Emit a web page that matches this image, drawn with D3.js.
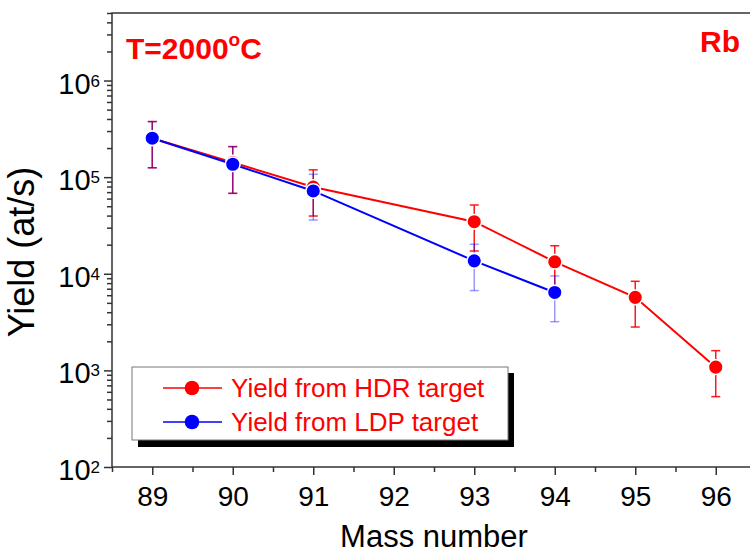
<!DOCTYPE html>
<html>
<head>
<meta charset="utf-8">
<script src="https://cdn.jsdelivr.net/npm/d3@7"></script>
<style>
  body { margin: 0; background: #fff; }
  text { font-family: Arial, "Liberation Sans", sans-serif; }
</style>
</head>
<body>
<svg id="chart"></svg>
<script>
// mass numbers
var massHDR = [89, 90, 91, 93, 94, 95, 96];
var yieldHDR = [2.53e5, 1.42e5, 7.9e4, 3.46e4, 1.33e4, 5.7e3, 1.08e3];
var errLowHDR = [1.25e5, 6.8e4, 3.96e4, 1.72e4, 6.6e3, 2.81e3, 535];
var errHighHDR = [3.76e5, 2.07e5, 1.19e5, 5.15e4, 1.95e4, 8.36e3, 1.6e3];

var massLDP = [89, 90, 91, 93, 94];
var yieldLDP = [2.53e5, 1.36e5, 7.2e4, 1.36e4, 6.4e3];
var errLowLDP = [1.25e5, 6.8e4, 3.6e4, 6.7e3, 3.19e3];
var errHighLDP = [3.76e5, 2.07e5, 1.07e5, 2.02e4, 9.5e3];

var xTicks = [89, 90, 91, 92, 93, 94, 95, 96];
var yTicks = [1e2, 1e3, 1e4, 1e5, 1e6];
var seriesNames = ["Yield from HDR target", "Yield from LDP target"];

var width = 750, height = 553;
var plotLeft = 112, plotRight = 756, plotTop = 13, plotBottom = 467;

var svg = d3.select('#chart')
    .attr('width', width)
    .attr('height', height);

var x = d3.scaleLinear().domain([88.5, 96.5]).range([plotLeft, plotRight]);
var y = d3.scaleLog().domain([100, 5e6]).range([plotBottom, plotTop]);

// frame
svg.append('rect')
    .attr('x', plotLeft).attr('y', plotTop)
    .attr('width', plotRight - plotLeft).attr('height', plotBottom - plotTop)
    .attr('fill', 'none').attr('stroke', '#333').attr('stroke-width', 1.5);

// minor ticks
var xMinor = [];
for (var m = 88.5; m <= 96.5; m += 1) xMinor.push(m);
var yMinor = [];
yTicks.slice(0, 4).forEach(function(d) {
    for (var k = 2; k <= 9; k++) yMinor.push(d * k);
});
[2e6, 3e6, 4e6, 5e6].forEach(function(d) { yMinor.push(d); });

svg.append('g')
    .attr('transform', 'translate(0,' + plotBottom + ')')
    .call(d3.axisBottom(x).tickValues(xMinor).tickSize(5).tickSizeOuter(0).tickFormat(''))
    .call(function(g) { g.select('.domain').remove(); });

svg.append('g')
    .attr('transform', 'translate(' + plotLeft + ',0)')
    .call(d3.axisLeft(y).tickValues(yMinor).tickSize(5).tickSizeOuter(0).tickFormat(''))
    .call(function(g) { g.select('.domain').remove(); });

// major x axis
var xAxis = svg.append('g')
    .attr('transform', 'translate(0,' + plotBottom + ')')
    .call(d3.axisBottom(x).tickValues(xTicks).tickSize(8).tickSizeOuter(0).tickFormat(d3.format('d')));
xAxis.select('.domain').remove();
xAxis.selectAll('text')
    .attr('y', 39).attr('dy', 0)
    .attr('font-size', 28).attr('fill', '#000')
    .style('font-family', 'Arial, "Liberation Sans", sans-serif');

// major y axis
var yAxis = svg.append('g')
    .attr('transform', 'translate(' + plotLeft + ',0)')
    .call(d3.axisLeft(y).tickValues(yTicks).tickSize(8).tickSizeOuter(0).tickFormat(''));
yAxis.select('.domain').remove();

svg.selectAll('.tick line').attr('stroke', '#333').attr('stroke-width', 1.5);

var yLab = svg.append('g').selectAll('text')
    .data(yTicks)
    .enter().append('text')
    .attr('x', 100)
    .attr('y', function(d) { return y(d) + 13; })
    .attr('text-anchor', 'end')
    .attr('font-size', 29);
yLab.append('tspan').text('10');
yLab.append('tspan')
    .attr('font-size', 17)
    .attr('dy', -7)
    .text(function(d) { return Math.round(Math.log10(d)); });

// axis titles
svg.append('text')
    .attr('x', 434).attr('y', 547)
    .attr('text-anchor', 'middle')
    .attr('font-size', 31)
    .text('Mass number');

svg.append('text')
    .attr('transform', 'translate(34,252) rotate(-90)')
    .attr('text-anchor', 'middle')
    .attr('font-size', 36)
    .text('Yield (at/s)');

// annotations
var title = svg.append('text')
    .attr('x', 126).attr('y', 59)
    .attr('font-size', 30).attr('font-weight', 'bold')
    .attr('fill', '#ff0000');
title.append('tspan').text('T=2000');
title.append('tspan').attr('font-size', 19).attr('dy', -13).text('o');
title.append('tspan').attr('dy', 13).text('C');

svg.append('text')
    .attr('x', 740).attr('y', 52)
    .attr('text-anchor', 'end')
    .attr('font-size', 30).attr('font-weight', 'bold')
    .attr('fill', '#ff0000')
    .text('Rb');

// series
var series = [
    { mass: massHDR, val: yieldHDR, lo: errLowHDR, hi: errHighHDR, color: '#ff0000', errOpacity: 0.9 },
    { mass: massLDP, val: yieldLDP, lo: errLowLDP, hi: errHighLDP, color: '#0000ff', errOpacity: 0.4 }
];

var line = d3.line()
    .x(function(d) { return x(d[0]); })
    .y(function(d) { return y(d[1]); });

series.forEach(function(s) {
    var pts = s.mass.map(function(m, i) { return [m, s.val[i], s.lo[i], s.hi[i]]; });
    var eb = svg.append('g')
        .attr('stroke', s.color)
        .attr('stroke-opacity', s.errOpacity)
        .attr('stroke-width', 1.5);
    eb.selectAll('line.v').data(pts).enter().append('line')
        .attr('x1', function(d) { return x(d[0]); })
        .attr('x2', function(d) { return x(d[0]); })
        .attr('y1', function(d) { return y(d[2]); })
        .attr('y2', function(d) { return y(d[3]); });
    eb.selectAll('line.lo').data(pts).enter().append('line')
        .attr('x1', function(d) { return x(d[0]) - 4.5; })
        .attr('x2', function(d) { return x(d[0]) + 4.5; })
        .attr('y1', function(d) { return y(d[2]); })
        .attr('y2', function(d) { return y(d[2]); });
    eb.selectAll('line.hi').data(pts).enter().append('line')
        .attr('x1', function(d) { return x(d[0]) - 4.5; })
        .attr('x2', function(d) { return x(d[0]) + 4.5; })
        .attr('y1', function(d) { return y(d[3]); })
        .attr('y2', function(d) { return y(d[3]); });
});

series.forEach(function(s) {
    var pts = s.mass.map(function(m, i) { return [m, s.val[i]]; });
    svg.append('path')
        .datum(pts)
        .attr('fill', 'none')
        .attr('stroke', s.color)
        .attr('stroke-width', 2)
        .attr('d', line);
    svg.append('g').selectAll('circle')
        .data(pts).enter().append('circle')
        .attr('cx', function(d) { return x(d[0]); })
        .attr('cy', function(d) { return y(d[1]); })
        .attr('r', 7.3)
        .attr('fill', s.color)
        .attr('stroke', '#fff')
        .attr('stroke-width', 1.5);
});

// legend
var lg = svg.append('g');
lg.append('rect')
    .attr('x', 138).attr('y', 373).attr('width', 376).attr('height', 74)
    .attr('fill', '#000');
lg.append('rect')
    .attr('x', 132).attr('y', 367).attr('width', 376).attr('height', 73)
    .attr('fill', '#fff').attr('stroke', '#777').attr('stroke-width', 1);
series.forEach(function(s, i) {
    var ly = 388 + i * 34;
    lg.append('line')
        .attr('x1', 163).attr('x2', 222).attr('y1', ly).attr('y2', ly)
        .attr('stroke', s.color).attr('stroke-width', 1.5);
    lg.append('circle')
        .attr('cx', 192).attr('cy', ly).attr('r', 7.3)
        .attr('fill', s.color);
    lg.append('text')
        .attr('x', 231).attr('y', ly + 9)
        .attr('font-size', 26)
        .attr('fill', '#ff0000')
        .text(seriesNames[i]);
});
</script>
</body>
</html>
